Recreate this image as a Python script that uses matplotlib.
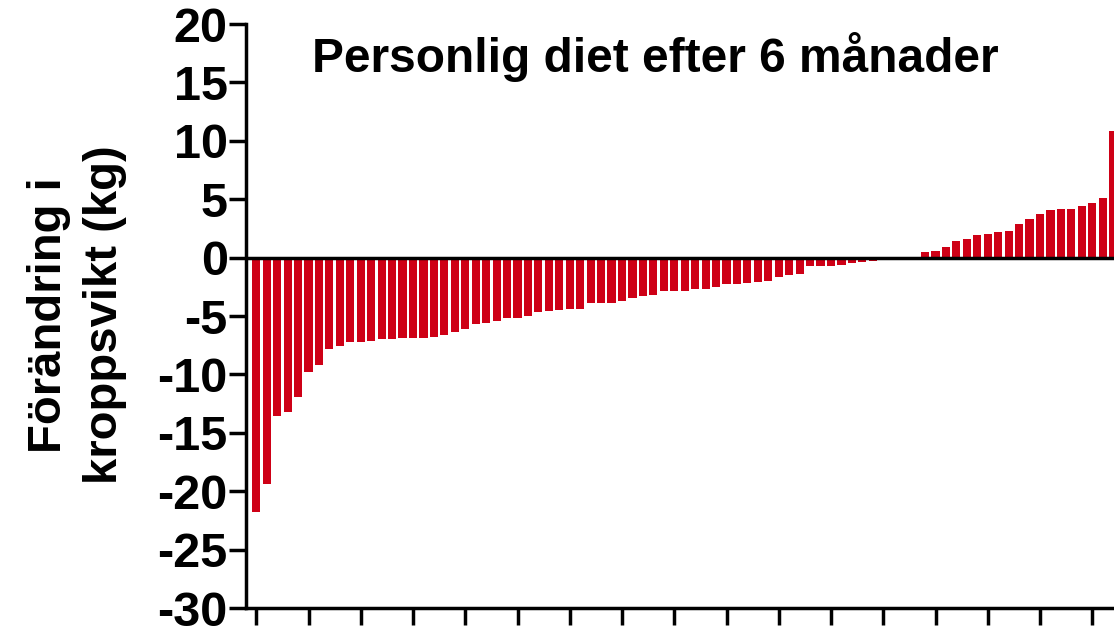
import matplotlib
matplotlib.use("Agg")
import matplotlib.pyplot as plt
import numpy as np

plt.rcParams['font.family'] = ['Liberation Sans', 'DejaVu Sans']
plt.rcParams['font.weight'] = 'bold'
plt.rcParams['axes.unicode_minus'] = False

# Weight change per participant (kg), sorted ascending
weight_change = [
    -21.8, -19.4, -13.6, -13.2, -11.9, -9.8, -9.2, -7.8, -7.6, -7.2,
    -7.2, -7.1, -7.0, -7.0, -6.9, -6.9, -6.9, -6.8, -6.6, -6.4,
    -6.1, -5.7, -5.6, -5.4, -5.2, -5.2, -5.0, -4.7, -4.6, -4.5,
    -4.4, -4.4, -3.9, -3.9, -3.9, -3.7, -3.5, -3.3, -3.2, -2.9,
    -2.9, -2.9, -2.7, -2.7, -2.5, -2.3, -2.3, -2.2, -2.1, -2.0,
    -1.7, -1.5, -1.4, -0.7, -0.7, -0.7, -0.6, -0.5, -0.4, -0.3,
    0.0, 0.0, 0.0, 0.0, 0.5, 0.6, 0.9, 1.4, 1.6, 1.9,
    2.0, 2.2, 2.3, 2.9, 3.3, 3.7, 4.1, 4.2, 4.2, 4.4,
    4.7, 5.1, 10.8,
]
y_ticks = [-30, -25, -20, -15, -10, -5, 0, 5, 10, 15, 20]
title = "Personlig diet efter 6 månader"
y_label = "Förändring i\nkroppsvikt (kg)"

W, H = 1114, 630
fig = plt.figure(figsize=(W / 100, H / 100), dpi=100)

n = len(weight_change)
x = np.arange(n)
# axes reaches a little past the right figure edge so the last bar is cut
left_px, right_px = 245.8, 1123.6
ax = fig.add_axes([left_px / W, 22 / H, (right_px - left_px) / W, (606 - 22) / H])

ax.bar(x, weight_change, width=0.78, color='#CE0016', zorder=2)
ax.axhline(0, color='black', lw=2.5, zorder=3)

ax.set_xlim(-1.0, n)
ax.set_ylim(-30, 20)
ax.set_yticks(y_ticks)
ax.set_xticks(x[::5])
ax.set_xticklabels([])

for side in ('top', 'right'):
    ax.spines[side].set_visible(False)
for side in ('left', 'bottom'):
    ax.spines[side].set_linewidth(2.5)

ax.tick_params(axis='y', length=12, width=2.5, labelsize=35, pad=1)
ax.tick_params(axis='x', length=12, width=2.5)
for lbl in ax.get_yticklabels():
    lbl.set_fontweight('bold')

ax.text(0.466, 0.943, title, transform=ax.transAxes, ha='center', va='center',
        fontsize=34.5, fontweight='bold')

fig.text(77 / W, 1 - 315 / H, y_label, rotation=90, ha='center', va='center',
         fontsize=34, fontweight='bold', linespacing=1.35)

fig.savefig("out.png", dpi=100)
